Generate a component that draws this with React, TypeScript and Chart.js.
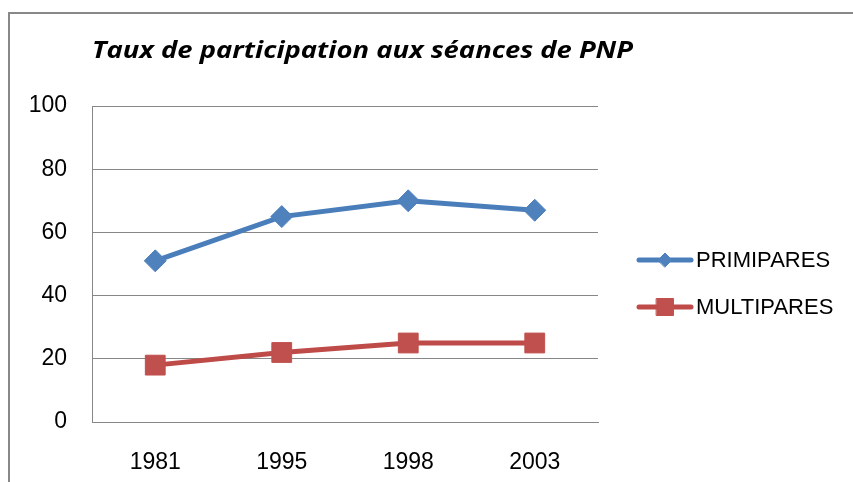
import React, { useEffect, useRef } from "react";
import { Chart, registerables } from "chart.js";
import { drawPoint } from "chart.js/helpers";

Chart.register(...registerables);

const TITLE = "Taux de participation aux séances de PNP";
const YEARS = ["1981", "1995", "1998", "2003"];
const PRIMIPARES = [51, 65, 70, 67];
const MULTIPARES = [18, 22, 25, 25];
const Y_TICKS = [0, 20, 40, 60, 80, 100];

const BLUE = "#4A7EBB";
const BLUE_M = "#4F81BD";
const RED = "#BE4B48";
const RED_M = "#C0504D";

const overlayPlugin = {
  id: "overlay",
  afterDraw(chart: any) {
    const ctx = chart.ctx;
    ctx.save();
    // title (stretched horizontally to the reference's wide face)
    ctx.fillStyle = "#000";
    ctx.font = "italic bold 23px 'Open Sans'";
    ctx.textBaseline = "alphabetic";
    ctx.textAlign = "left";
    const w = ctx.measureText(TITLE).width;
    const sx = 541 / w;
    ctx.save();
    ctx.translate(92, 58);
    ctx.scale(sx, 1);
    ctx.fillText(TITLE, 0, 0);
    ctx.restore();

    // legend
    const rows = [260, 307];
    chart.data.datasets.forEach((ds: any, i: number) => {
      const y = rows[i];
      ctx.strokeStyle = ds.borderColor;
      ctx.lineWidth = 5;
      ctx.lineCap = "round";
      ctx.beginPath();
      ctx.moveTo(639, y);
      ctx.lineTo(691, y);
      ctx.stroke();
      ctx.fillStyle = ds.pointBackgroundColor;
      ctx.strokeStyle = ds.pointBorderColor;
      ctx.lineWidth = 1;
      drawPoint(ctx, {
        pointStyle: ds.pointStyle,
        radius: ds.pointStyle === "rect" ? 12 : 7,
        rotation: 0,
        borderWidth: 1,
      } as any, 665, y);
      ctx.fillStyle = "#000";
      ctx.font = "22px 'Liberation Sans'";
      ctx.textBaseline = "middle";
      ctx.fillText(ds.label, 696, y + 1);
    });
    ctx.restore();
  },
};

export default function App() {
  const ref = useRef<HTMLCanvasElement>(null);
  useEffect(() => {
    const chart = new Chart(ref.current!, {
      type: "line",
      data: {
        labels: YEARS,
        datasets: [
          {
            label: "PRIMIPARES",
            data: PRIMIPARES,
            borderColor: BLUE,
            borderWidth: 5,
            pointStyle: "rectRot",
            pointRadius: 11,
            pointBackgroundColor: BLUE_M,
            pointBorderColor: BLUE_M,
            pointBorderWidth: 1,
            tension: 0,
          },
          {
            label: "MULTIPARES",
            data: MULTIPARES,
            borderColor: RED,
            borderWidth: 5,
            pointStyle: "rect",
            pointRadius: 14,
            pointBackgroundColor: RED_M,
            pointBorderColor: RED_M,
            pointBorderWidth: 1,
            tension: 0,
          },
        ],
      },
      options: {
        animation: false,
        responsive: false,
        layout: { padding: { left: 0, top: 106, right: 255, bottom: 0 } },
        plugins: {
          legend: { display: false },
          title: { display: false },
          tooltip: { enabled: false },
        },
        scales: {
          x: {
            offset: true,
            grid: { display: false, drawTicks: false },
            border: { display: true, color: "#878787", width: 1 },
            ticks: {
              color: "#000",
              font: { family: "'Liberation Sans'", size: 23 },
              padding: 27,
            },
            afterFit: (s: any) => {
              s.height = 60;
            },
          },
          y: {
            min: 0,
            max: 100,
            afterBuildTicks: (s: any) => {
              s.ticks = Y_TICKS.map((v) => ({ value: v }));
            },
            grid: { color: "#878787", lineWidth: 1, drawTicks: false },
            border: { display: true, color: "#878787", width: 1 },
            ticks: {
              color: "#000",
              font: { family: "'Liberation Sans'", size: 23 },
              padding: 25,
            },
            afterFit: (s: any) => {
              s.width = 92;
            },
          },
        },
      },
      plugins: [overlayPlugin],
    });
    return () => chart.destroy();
  }, []);

  return (
    <div
      style={{
        position: "absolute",
        left: 0,
        top: 0,
        width: 853,
        height: 482,
        overflow: "hidden",
        background: "#fff",
      }}
    >
      <div
        style={{
          position: "absolute",
          left: 8,
          top: 12,
          width: 900,
          height: 600,
          border: "2px solid #888",
        }}
      />
      <canvas
        ref={ref}
        width={853}
        height={482}
        style={{ position: "absolute", left: 0, top: 0, width: 853, height: 482 }}
      />
    </div>
  );
}
